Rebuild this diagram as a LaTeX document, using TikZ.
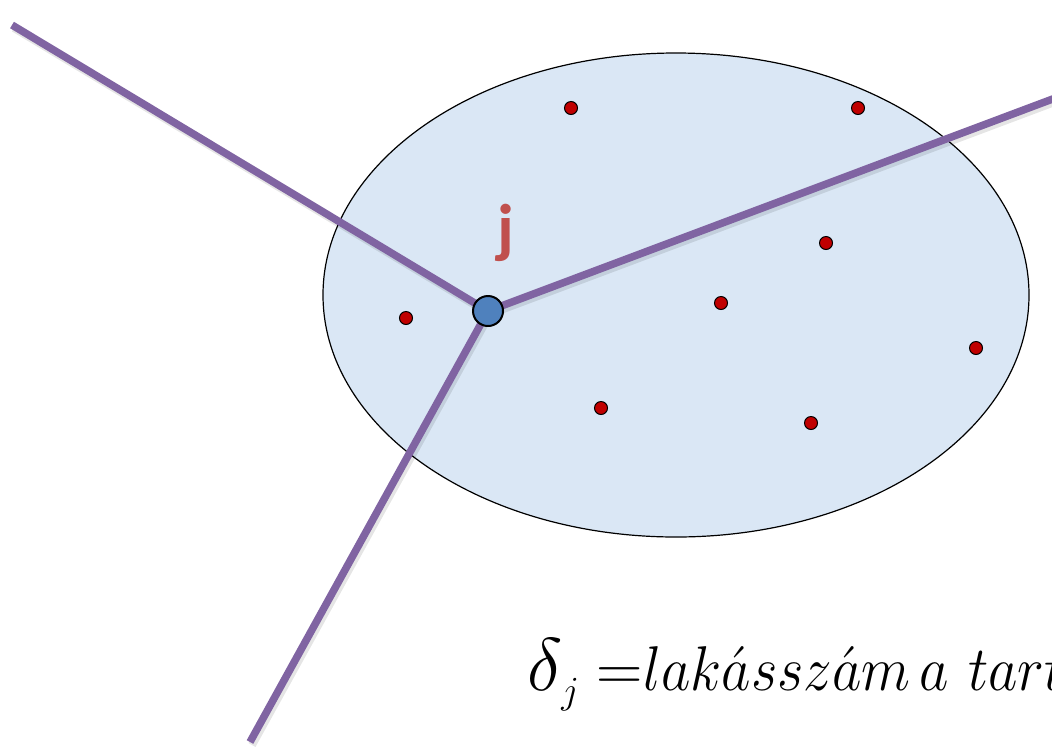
\documentclass[tikz,border=0pt]{standalone}
\usepackage{fontspec}
\usetikzlibrary{shapes.geometric}
\newfontfamily\labelfont{Carlito}
\definecolor{ellfill}{HTML}{DAE7F5}
\definecolor{edgepurple}{HTML}{8064A2}
\definecolor{dotred}{HTML}{C00000}
\definecolor{nodeblue}{HTML}{4F81BD}
\definecolor{jred}{HTML}{C0504D}
\tikzset{
  region/.style={draw=black, line width=1.2pt, fill=ellfill},
  border/.style={draw=edgepurple, line width=7.5pt},
  bordershadow/.style={draw=black, opacity=0.10, line width=8pt},
  house/.style={circle, draw=black, line width=1pt, fill=dotred, minimum size=13pt, inner sep=0pt},
  centre/.style={circle, draw=black, line width=2pt, fill=nodeblue, minimum size=30pt, inner sep=0pt},
  formula/.style={anchor=base west, inner sep=0pt, transform shape, font=\fontsize{20.74}{24}\selectfont},
}
\begin{document}
\begin{tikzpicture}[x=1pt,y=-1pt]
\useasboundingbox (0,0) rectangle (1052,748);
\begin{scope}
\clip (0,0) rectangle (1052,748);
\node[region, ellipse, minimum width=706pt, minimum height=484pt, inner sep=0pt] (ell) at (676,295) {};
\coordinate (c) at (488,311);
\coordinate (nw) at (12,25);
\coordinate (ne) at (1058,97);
\coordinate (s) at (250,742);
\draw[bordershadow] ([shift={(2,3)}]nw) -- ([shift={(2,3)}]c) -- ([shift={(2,3)}]ne);
\draw[bordershadow] ([shift={(2,3)}]c) -- ([shift={(2,3)}]s);
\draw[border] (nw) -- (c);
\draw[border] (c) -- (ne);
\draw[border] (c) -- (s);
\node[centre] (j) at (c) {};
\node[text=jred, font=\labelfont\bfseries\fontsize{66}{70}\selectfont, anchor=base] (jl) at (506,250) {j};
\foreach \n/\x/\y in {h1/571/108, h2/858/108, h3/826/243, h4/721/303, h5/406/318, h6/976/348, h7/601/408, h8/811/423}
  \node[house] (\n) at (\x,\y) {};
\node[formula, scale=3.6] (delta) at (527,690) {$\delta$};
\node[formula, scale=1.85] (sub) at (561,703) {$j$};
\node[formula, scale=3.1] (eq) at (596,690) {$=$};
\node[formula, xscale=2.75, yscale=3.05] (text) at (643,690) {$lak\acute{a}ssz\acute{a}m\,a\,\,tartom\acute{a}nyban$};
\end{scope}
\end{tikzpicture}
\end{document}
